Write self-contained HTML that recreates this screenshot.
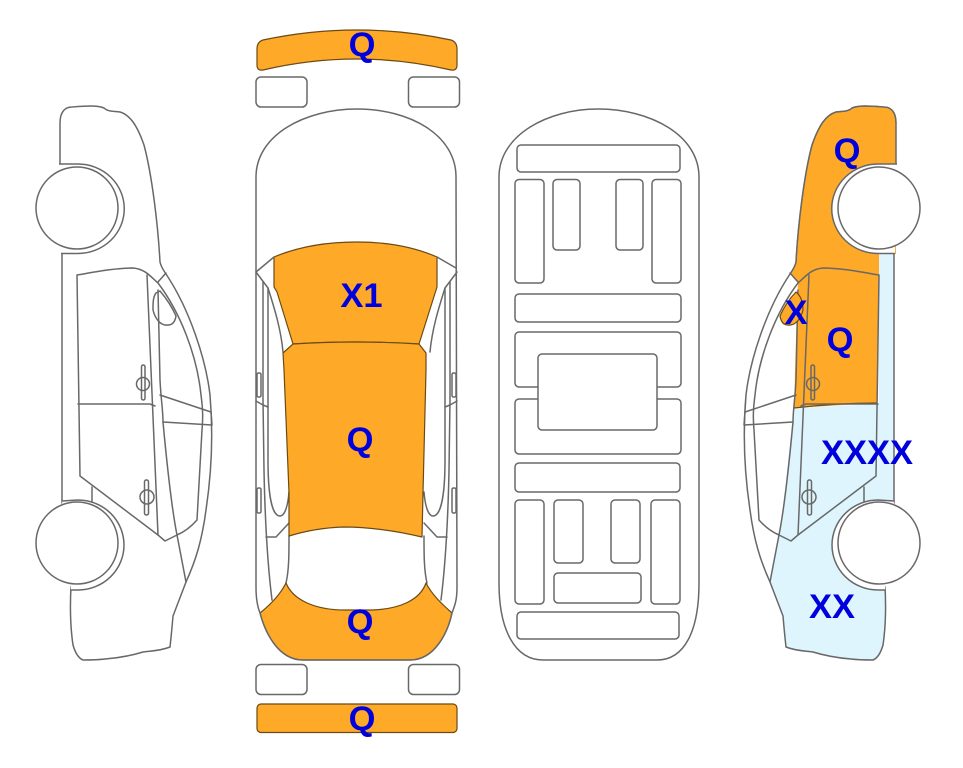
<!DOCTYPE html>
<html>
<head>
<meta charset="utf-8">
<style>
html,body{margin:0;padding:0;background:#fff;}
svg{display:block;}
.l{fill:none;stroke:#686868;stroke-width:1.5;stroke-linejoin:round;stroke-linecap:round;}
.w{fill:#fff;stroke:#686868;stroke-width:1.5;}
.o{fill:#FFA929;stroke:#6b4a14;stroke-width:1.2;stroke-linejoin:round;}
.t{font-family:"Liberation Sans",Arial,sans-serif;font-weight:bold;font-size:34.500px;fill:#0000DD;text-anchor:middle;}
</style>
</head>
<body>
<svg width="963" height="768" viewBox="0 0 963 768" xmlns="http://www.w3.org/2000/svg">
<defs>
<g id="side">
  <path class="l" d="M60,166 L60,123 C60,112 65,107 72,107 C85,106 97,105 104,108 C108,112 114,111 120,112 C130,115 137,125 144,145 C152,175 158,225 160,262 C161,267 164,271 166,274 C190,310 206,360 210,395 C213,430 212,470 206,510 C202,540 196,560 186,582 L173,616 C172,628 171,638 170,647 C160,651 150,651 143,652 C130,656 118,658 105,659 C97,660 90,660 83,660 C78,658 75,652 73,645 C70,625 70,605 71,586"/>
  <path class="l" d="M133,268 C145,269 150,276 158,283 C180,312 197,355 201,395 C203,410 203,418 202,430 L197,520 C190,528 184,532 177,535 L165,541 L158,535 L80,476 L77,275 C95,272 115,268 133,268 Z"/>
  <path class="l" d="M158,282 L166,273"/>
  <path class="l" d="M62,253 L62,503"/>
  <path class="l" d="M92,487 L92,503"/>
  <path class="l" d="M147,275 L158,535"/>
  <path class="l" d="M158,290 L160,380 C161,400 163,410 163,422 C167,465 172,510 177,535 L186,582"/>
  <path class="l" d="M78,404 L150,404 L155,406"/>
  <path class="l" d="M160,395 L211,412 L212,425 L163,422"/>
  <rect class="l" x="141.500" y="365" width="3.500" height="35" rx="1.700"/>
  <circle class="l" cx="143" cy="384" r="6.500"/>
  <rect class="l" x="144.500" y="480" width="4" height="35" rx="1.800"/>
  <circle class="l" cx="147" cy="497" r="7"/>
</g>
<g id="sideWheels">
  <path class="w" d="M59,164 L78,164 A46,44.500 0 0 1 78,253.500 L61,253.500"/>
  <path class="w" d="M62,501 L78,500 A46,45 0 0 1 78,590 L71,590"/>
  <circle class="w" cx="77" cy="208" r="41"/>
  <circle class="w" cx="77" cy="543" r="41"/>
</g>
<g id="topSide">
  <path class="l" d="M256,272 L268,288 C275,310 281,330 283,352"/>
  <path class="l" d="M263,282 L263,400 L264,470 C265,520 267,560 272,600"/>
  <path class="l" d="M268,288 L268,460 C268,495 272,516 280,516 C285,516 288,505 289,492"/>
  <rect class="l" x="257" y="373" width="4" height="24" rx="1.500"/>
  <rect class="l" x="257" y="488" width="4" height="25" rx="1.500"/>
  <path class="l" d="M256,401 L263,405 L268,407"/>
  <path class="l" d="M266,537 L276,537 L289,523"/>
  <path class="l" d="M289,536 C289,555 289,570 286,583"/>
</g>
</defs>

<!-- LEFT SIDE CAR -->
<use href="#side"/>
<path class="l" d="M156,293 C153,297 153,303 153,310 C155,318 160,326 168,325 C172,325 175,322 176,316 C172,307 166,298 160,291 Z"/>
<use href="#sideWheels"/>

<!-- TOP VIEW -->
<path class="o" d="M257,49 Q257,42 263,40 Q357,20 451,40 Q457,42 457,49 L457,65 Q457,71 451,70 Q357,48 263,70 Q257,71 257,65 Z"/>
<rect class="l" x="256" y="77" width="51" height="30" rx="5"/>
<rect class="l" x="408.500" y="77" width="51" height="30" rx="5"/>
<rect class="l" x="256" y="664.500" width="51" height="30" rx="5"/>
<rect class="l" x="408.500" y="664.500" width="51" height="30" rx="5"/>
<rect class="o" x="257" y="704" width="200" height="28.500" rx="4"/>

<use href="#topSide"/>
<use href="#topSide" transform="translate(713,0) scale(-1,1)"/>

<path class="o" d="M286,583 C293,600 315,610 345,610 L372,610 C400,609 420,600 426,583 C432,595 443,605 452,613 C448,632 435,660 410,660 L303,660 C278,660 265,632 260,613 C270,605 280,595 286,583 Z"/>
<path class="o" d="M274,257 C300,246 330,242 357,242 C385,242 412,246 437,257 L437,287 L419,344 Q355,340 293,344 L277,292 L274,287 Z"/>
<path class="o" d="M293,344 Q355,340 419,344 L426,353 L426,370 L423,493 L422,537 Q380,527 343,527 Q315,528 289,536 L289,493 L284,370 L283,353 Z"/>
<path class="l" d="M256,587 L256,177 C256,135 305,109 357,109 C410,109 456,135 456,177 L457,587 C457,600 455,605 452,613 C448,632 435,660 410,660 L303,660 C278,660 265,632 260,613 C258,608 256,600 256,587 Z"/>
<path class="l" d="M256,272 L274,257"/>
<path class="l" d="M437,257 L456,268"/>

<!-- UNDERBODY -->
<path class="l" d="M499,177 C499,135 548,109 598,109 C650,109 699,135 699,177 L699,583 C699,630 685,660 657,660 L543,660 C515,660 499,630 499,583 Z"/>
<g class="l">
  <rect x="517" y="145" width="163" height="27" rx="4"/>
  <rect x="515" y="179.500" width="29" height="103.500" rx="4"/>
  <rect x="553" y="179.500" width="27" height="70.500" rx="4"/>
  <rect x="616" y="179.500" width="27" height="70.500" rx="4"/>
  <rect x="652" y="179.500" width="29" height="103.500" rx="4"/>
  <rect x="515" y="294" width="166" height="28" rx="4"/>
  <rect x="515" y="332" width="166" height="55" rx="4"/>
  <rect x="515" y="399" width="166" height="55" rx="4"/>
  <rect x="515" y="463" width="165" height="29" rx="4"/>
  <rect x="515" y="500" width="29" height="104" rx="4"/>
  <rect x="554" y="500" width="29" height="63" rx="4"/>
  <rect x="611" y="500" width="29" height="63" rx="4"/>
  <rect x="651" y="500" width="29" height="104" rx="4"/>
  <rect x="554" y="573" width="87" height="30" rx="4"/>
  <rect x="517" y="612" width="162" height="27" rx="4"/>
</g>
<rect class="w" x="538" y="354" width="119" height="76" rx="4"/>

<!-- RIGHT SIDE CAR -->
<g transform="translate(956,0) scale(-1,1)">
  <path fill="#DFF5FE" d="M62,250 L77,250 L77,404 L162,408 C167,450 172,500 176,535 L186,582 L173,616 C172,628 171,638 170,647 C160,651 150,651 143,652 C130,656 118,658 105,659 C97,660 90,660 83,660 C78,658 75,652 73,645 C70,625 70,605 71,586 L62,503 Z"/>
  <path fill="#FFA929" d="M60,166 L60,123 C60,112 65,107 72,107 C85,106 97,105 104,108 C108,112 114,111 120,112 C130,115 137,125 144,145 C152,175 158,225 160,262 C161,267 164,271 166,274 L158,283 C150,276 145,269 133,268 C115,268 95,272 77,275 L77,254 L60,254 Z"/>
  <path fill="#FFA929" d="M77,275 C95,272 115,268 133,268 C145,269 150,276 158,283 C159,300 160,340 162,408 L79,403 Z"/>
  <path fill="none" stroke="#6b4a14" stroke-width="1.200" d="M60,123 C60,112 65,107 72,107 C85,106 97,105 104,108 C108,112 114,111 120,112 C130,115 137,125 144,145 C152,175 158,225 160,262 C161,267 164,271 166,274"/>
  <path fill="none" stroke="#6b4a14" stroke-width="1.200" d="M79,403 Q120,403 162,408"/>
  <use href="#side"/>
  <path class="o" d="M160,292 C155,296 153,303 153,310 C155,318 160,326 168,325 C172,325 175,322 176,316 C172,307 166,298 160,292 Z"/>
  <use href="#sideWheels"/>
</g>

<!-- LABELS -->
<text class="t" x="362" y="56">Q</text>
<text class="t" x="361.500" y="307">X1</text>
<text class="t" x="360" y="451">Q</text>
<text class="t" x="360" y="633">Q</text>
<text class="t" x="362" y="730">Q</text>
<text class="t" x="847" y="162">Q</text>
<text class="t" x="840" y="351">Q</text>
<text class="t" x="796" y="324">X</text>
<text class="t" x="867" y="464">XXXX</text>
<text class="t" x="832" y="618">XX</text>
</svg>
</body>
</html>
